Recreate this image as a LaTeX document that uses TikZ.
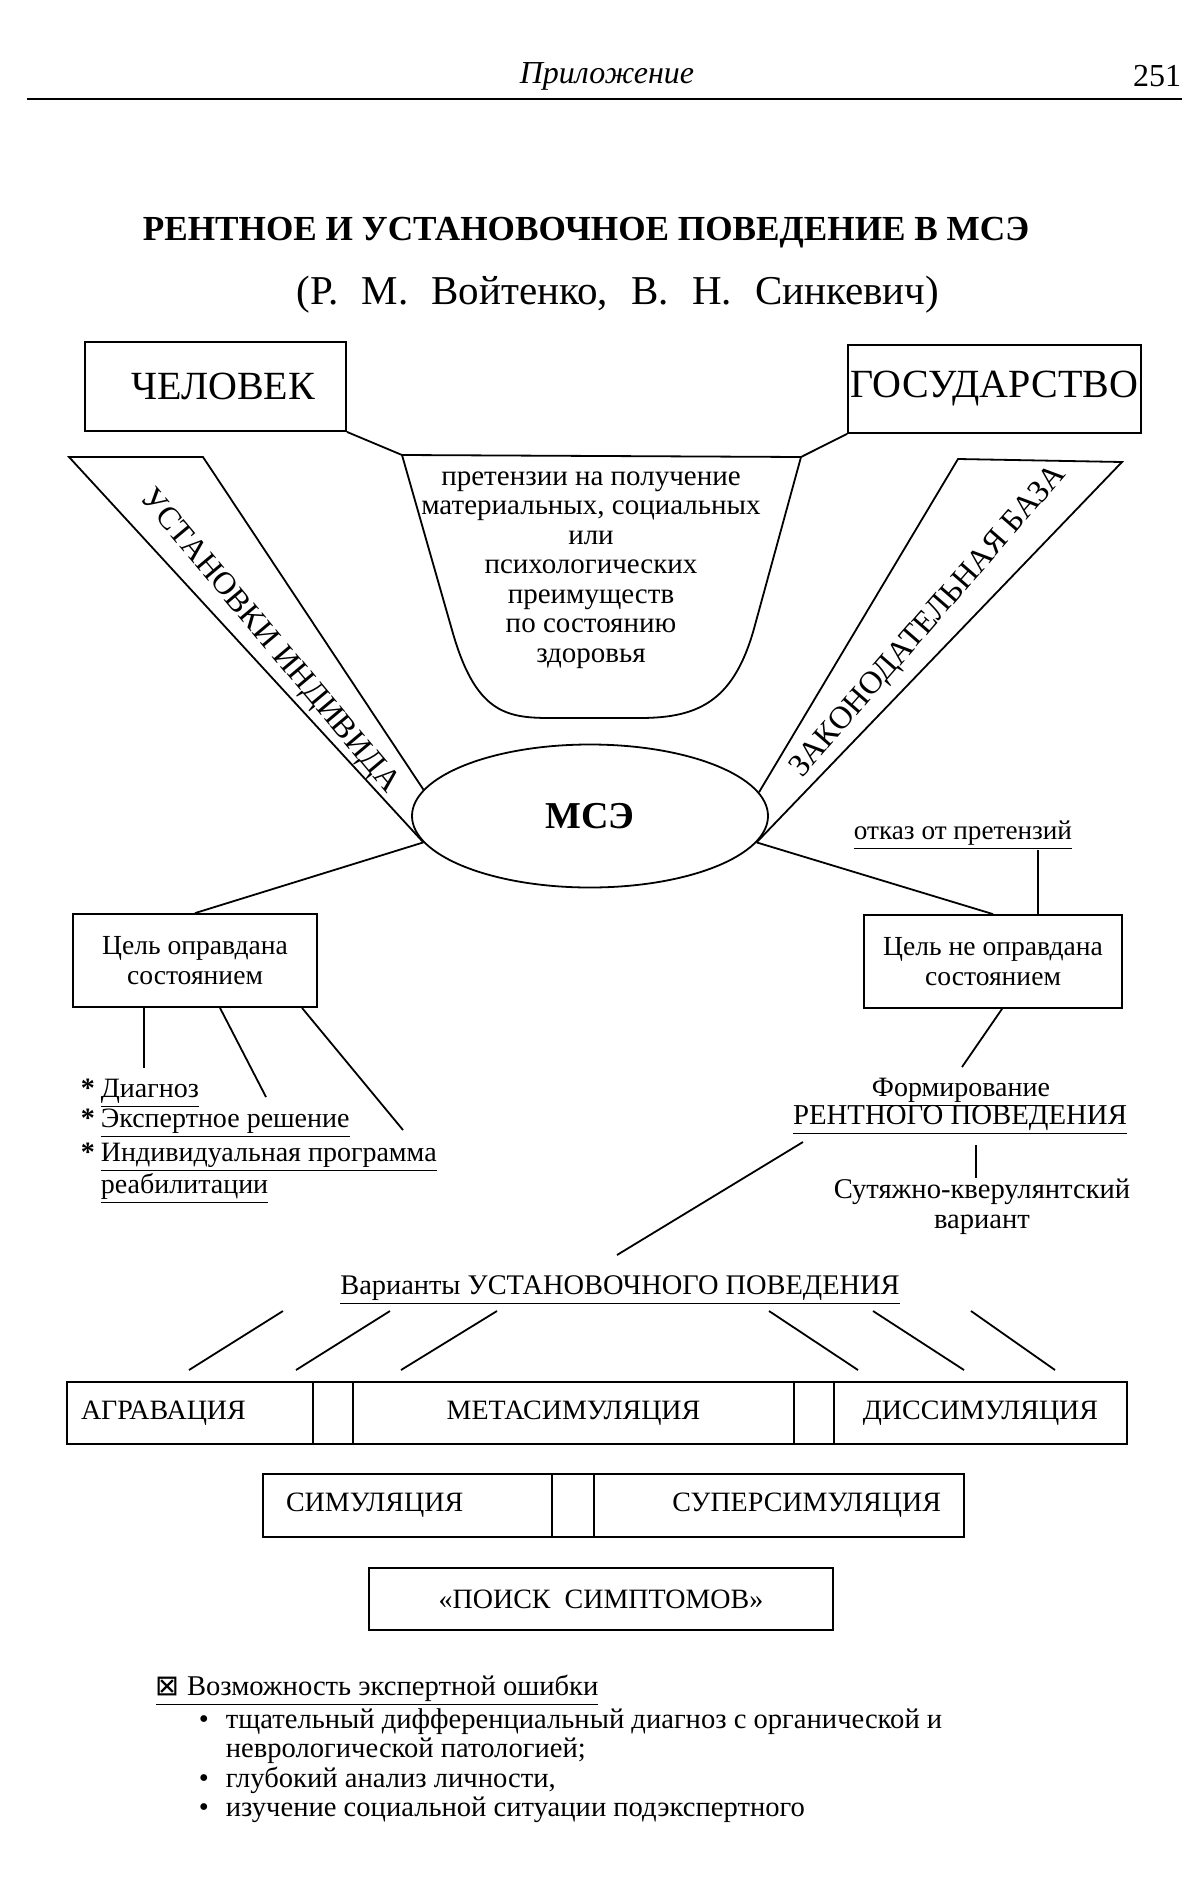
\documentclass[tikz,border=0pt]{standalone}
\usepackage{fontspec}
\setmainfont{Liberation Serif}
\newfontfamily\symfont{DejaVu Sans}
\usepackage{tikz}
\usetikzlibrary{shapes}

\newcommand{\mk}{\makebox[10pt][l]{\textbf{*}}}
\newcommand{\bl}{\makebox[13.5pt][l]{\textbullet}}
\newcommand{\gap}{\hspace{11.6pt}}

\begin{document}
\begin{tikzpicture}[x=0.5pt, y=-0.5pt, line width=0.9pt,
  every node/.style={inner sep=0pt, font=\fontsize{14}{15}\selectfont},
  box/.style={draw, rectangle, align=center},
  cell/.style={draw, rectangle, minimum height=31pt, font=\fontsize{14}{16}\selectfont},
  band/.style={font=\fontsize{16}{18}\selectfont}]
\useasboundingbox (0,0) rectangle (1200,1894);

% running head
\node[font=\fontsize{16}{18}\selectfont\itshape] (head) at (607,76) {Приложение};
\node[font=\fontsize{16}{18}\selectfont] (page) at (1157,76) {251};
\draw[line width=1.2pt] (27,99) -- (1182,99);

% title
\node[font=\fontsize{17.6}{20}\selectfont\bfseries] (title) at (586,233) {РЕНТНОЕ И УСТАНОВОЧНОЕ ПОВЕДЕНИЕ В МСЭ};
\node[font=\fontsize{20.5}{24}\selectfont] (authors) at (618,295) {(Р.\gap М.\gap Войтенко,\gap В.\gap Н.\gap Синкевич)};

% man and state
\node[box, minimum width=130.5pt, minimum height=44.5pt, font=\fontsize{20}{24}\selectfont] (man) at (215.5,386.5) {\hspace*{7.5pt}ЧЕЛОВЕК};
\node[box, minimum width=146.5pt, minimum height=44pt, font=\fontsize{20}{24}\selectfont] (state) at (994.5,389) {ГОСУДАРСТВО};

% claims cup
\coordinate (cupL) at (402,455);
\coordinate (cupR) at (801,457);
\draw (cupL) -- (452,630) .. controls (475,712) and (505,718) .. (550,718) -- (640,718) .. controls (700,718) and (735,700) .. (755,625) -- (cupR) -- cycle;
\node[align=center, font=\fontsize{14.5}{14.75}\selectfont] (claims) at (591,570) {претензии на получение\\материальных, социальных\\или\\психологических\\преимуществ\\по состоянию\\здоровья};
\draw (man.south east) -- (cupL);
\draw (state.south west) -- (cupR);

% MSE
\node[draw, ellipse, minimum width=178pt, minimum height=71.5pt, font=\fontsize{19}{22}\selectfont\bfseries] (mse) at (590,816) {МСЭ};

% bands
\draw (mse.189) -- (69,457) -- (203,457) -- (mse.171);
\draw (mse.8) -- (958,459) -- (1122,462) -- (mse.-9);
\node[band, rotate=-50] (attitudes) at (269,642) {УСТАНОВКИ ИНДИВИДА};
\node[band, rotate=49] (law) at (929,622) {ЗАКОНОДАТЕЛЬНАЯ БАЗА};

% goals
\node[box, minimum width=122pt, minimum height=46.5pt, font=\fontsize{13.8}{15}\selectfont] (goalL) at (195,960.5) {Цель оправдана\\состоянием};
\node[box, minimum width=129pt, minimum height=46.5pt, font=\fontsize{13.8}{15}\selectfont] (goalR) at (993,961.5) {Цель не оправдана\\состоянием};
\draw (mse.189) -- (goalL.north);
\draw (mse.-9) -- (goalR.north);

\node[font=\fontsize{13.6}{15}\selectfont] (refuse) at (963,835) {\underline{отказ от претензий}};
\draw ([xshift=37.5pt]refuse.south) -- ([xshift=22.5pt]goalR.north);

% left list
\node[anchor=west] (diag) at (80,1093) {\mk\underline{Диагноз}};
\node[anchor=west] (expert) at (80,1123) {\mk\underline{Экспертное решение}};
\node[anchor=north west, align=left] (ipr) at (80,1142) {\mk\underline{Индивидуальная программа}\\\hspace*{10pt}\underline{реабилитации}};
\coordinate (diagEnd) at (144,1068);
\coordinate (expertEnd) at (266,1097);
\coordinate (iprEnd) at (403,1130);
\draw ([xshift=-25.5pt]goalL.south) -- (diagEnd);
\draw ([xshift=12.5pt]goalL.south) -- (expertEnd);
\draw ([xshift=53.5pt]goalL.south) -- (iprEnd);

% rent branch
\node (form) at (961,1092) {\underline{Формирование}};
\node[font=\fontsize{14.4}{16}\selectfont] (rent) at (960,1120) {\underline{РЕНТНОГО ПОВЕДЕНИЯ}};
\coordinate (formEnd) at (962,1067);
\draw ([xshift=4.5pt]goalR.south) -- (formEnd);
\node[align=center, font=\fontsize{14.3}{15}\selectfont] (querul) at (982,1207) {Сутяжно-кверулянтский\\вариант};
\coordinate (rentEnd) at (976,1145);
\draw (rentEnd) -- (rentEnd |- querul.north);
\coordinate (rentFoot) at (803,1142);
\coordinate (varTop) at (617,1255);
\draw (rentFoot) -- (varTop);

% variants
\node[font=\fontsize{14.2}{16}\selectfont] (variants) at (620,1290) {\underline{Варианты УСТАНОВОЧНОГО ПОВЕДЕНИЯ}};
\foreach \t/\b [count=\i] in {283/189, 390/296, 497/401, 769/858, 873/964, 971/1055} {
  \coordinate (fanT\i) at (\t,1311);
  \coordinate (fanB\i) at (\b,1370);
  \draw (fanT\i) -- (fanB\i);
}

% first row
\node[cell, text width=109pt, inner xsep=7pt, align=left] (aggr) at (190,1413) {АГРАВАЦИЯ};
\node[cell, minimum width=20pt] (gapA) at (333,1413) {};
\node[cell, minimum width=220.5pt] (meta) at (573.5,1413) {МЕТАСИМУЛЯЦИЯ};
\node[cell, minimum width=20pt] (gapB) at (814,1413) {};
\node[cell, minimum width=146.5pt] (diss) at (980.5,1413) {ДИССИМУЛЯЦИЯ};

% second row
\node[cell, text width=121.5pt, inner xsep=11.5pt, align=left, minimum height=31.5pt] (sim) at (407.5,1505.5) {СИМУЛЯЦИЯ};
\node[cell, minimum width=21pt, minimum height=31.5pt] (gapC) at (573,1505.5) {};
\node[cell, text width=162pt, inner xsep=11.5pt, align=right, minimum height=31.5pt] (supsim) at (779,1505.5) {СУПЕРСИМУЛЯЦИЯ};

% third row
\node[cell, minimum width=232pt] (search) at (601,1599) {«ПОИСК\ \ СИМПТОМОВ»};

% expert error
\node[anchor=west, font=\fontsize{14.3}{15}\selectfont] (err) at (155,1690) {\underline{{\symfont ⊠}\ Возможность экспертной ошибки}};
\node[anchor=north west, align=left, font=\fontsize{14.3}{14.6}\selectfont] (checks) at (198,1708) {\bl тщательный дифференциальный диагноз с органической и\\\hspace*{13.5pt}неврологической патологией;\\\bl глубокий анализ личности,\\\bl изучение социальной ситуации подэкспертного};
\end{tikzpicture}
\end{document}
